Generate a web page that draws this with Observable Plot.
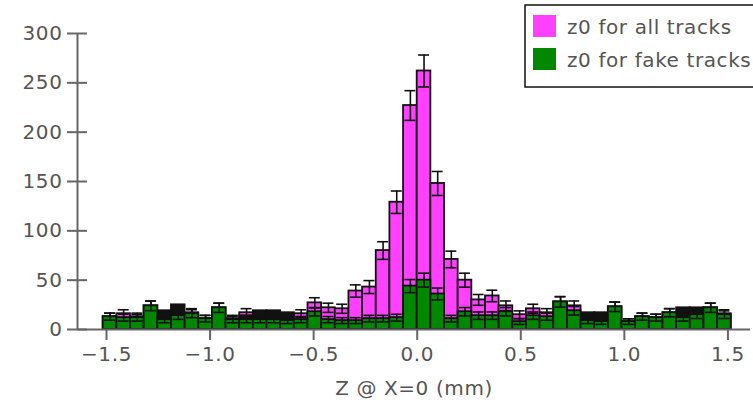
<!DOCTYPE html>
<html><head><meta charset="utf-8">
<script src="https://cdn.jsdelivr.net/npm/d3@7"></script>
<script src="https://cdn.jsdelivr.net/npm/@observablehq/plot@0.6"></script>
<style>
html,body{margin:0;padding:0;background:#fff;}
#chart{width:753px;height:405px;overflow:hidden;}
</style></head><body><div id="chart"></div>
<script>
// histogram range and counts (46 bins)
const xMin = -1.516, xMax = 1.516;
const allTracks = [13,16,13,24,10,14,17,11,22,11,17,10,10,12,16,27,22,21,39,43,80,129,227,262,148,71,50,30,34,24,15,21,17,28,24,9,8,23,8,13,12,17,15,15,22,16];
const fakeTracks = [13,12,12,24,10,14,16,11,22,10,10,10,10,9,10,18,10,9,9,11,11,12,44,50,36,11,18,14,14,18,8,14,13,28,19,9,8,23,8,13,12,17,12,15,22,15];
const darkBand  = [0,0,0,0,19,25,0,0,0,0,14,19,19,17,0,0,0,0,0,0,0,0,0,0,0,0,0,0,0,0,0,0,0,0,0,17,17,0,0,0,0,0,22,22,0,0];
const xTicks = [-1.5,-1.0,-0.5,0.0,0.5,1.0,1.5];
const yTicks = [0,50,100,150,200,250,300];
const seriesNames = ["z0 for all tracks","z0 for fake tracks"];
const seriesColors = ["#ff40ff","#008800"];
const xLabel = "Z @ X=0 (mm)";

const n = allTracks.length, w = (xMax - xMin) / n, cap = 0.4 * w;
const toBins = vals => vals.map((v, i) => ({
  x1: xMin + i * w, x2: xMin + (i + 1) * w, xc: xMin + (i + 0.5) * w,
  v, lo: v - Math.sqrt(v), hi: v + Math.sqrt(v)
})).filter(d => d.v > 0);
const allB = toBins(allTracks), fakeB = toBins(fakeTracks), darkB = toBins(darkBand);

const errMarks = (data) => [
  Plot.ruleX(data, {x: "xc", y1: "lo", y2: "hi", stroke: "#111", strokeWidth: 1.6}),
  Plot.ruleY(data, {y: "hi", x1: d => d.xc - cap, x2: d => d.xc + cap, stroke: "#111", strokeWidth: 1.6}),
  Plot.ruleY(data, {y: "lo", x1: d => d.xc - cap, x2: d => d.xc + cap, stroke: "#111", strokeWidth: 1.6})
];

const xDom = [-1.64, 1.609];
const chart = Plot.plot({
  width: 753, height: 405,
  marginLeft: 77, marginRight: 3, marginTop: 33, marginBottom: 76,
  style: {fontFamily: "DejaVu Sans", fontSize: "20px", color: "#555", background: "#fff", letterSpacing: "0.6px"},
  x: {domain: xDom},
  y: {domain: [0, 300]},
  marks: [
    Plot.rectY(allB, {x1: "x1", x2: "x2", y: "v", fill: seriesColors[0], stroke: "#111", strokeWidth: 1.8}),
    ...errMarks(allB),
    Plot.rectY(darkB, {x1: "x1", x2: "x2", y: "v", fill: "#111", stroke: "#111", strokeWidth: 1.8}),
    Plot.rectY(fakeB, {x1: "x1", x2: "x2", y: "v", fill: seriesColors[1], stroke: "#111", strokeWidth: 1.8}),
    ...errMarks(fakeB),
    Plot.ruleX([xDom[0]], {y1: 0, y2: 300, stroke: "#666", strokeWidth: 2}),
    Plot.ruleY([0], {x1: xDom[0], x2: xDom[1], stroke: "#666", strokeWidth: 2}),
    Plot.axisY(yTicks, {tickSize: 20, dx: 10, tickPadding: 5, stroke: "#666", strokeWidth: 2, label: null}),
    Plot.axisX(xTicks, {tickSize: 11, tickPadding: 6, tickFormat: d3.format(".1f"), stroke: "#666", strokeWidth: 2, label: null}),
    Plot.text([xLabel], {frameAnchor: "bottom", dy: 59, lineAnchor: "middle", fill: "#555", fontSize: 20})
  ]
});
document.getElementById("chart").appendChild(chart);

// legend
const svg = d3.select(chart);
const lg = svg.append("g").attr("font-family", "DejaVu Sans").attr("font-size", 20)
  .attr("letter-spacing", "0.6px").attr("text-anchor", "start");
lg.append("rect").attr("x", 525).attr("y", 5).attr("width", 260).attr("height", 82)
  .attr("fill", "#fff").attr("stroke", "#111").attr("stroke-width", 1.5);
seriesNames.forEach((name, i) => {
  lg.append("rect").attr("x", 533).attr("y", 15 + i * 33).attr("width", 23).attr("height", 22).attr("fill", seriesColors[i]);
  lg.append("text").attr("x", 567).attr("y", 34 + i * 33).attr("fill", "#555").attr("text-anchor", "start").text(name);
});
</script></body></html>
